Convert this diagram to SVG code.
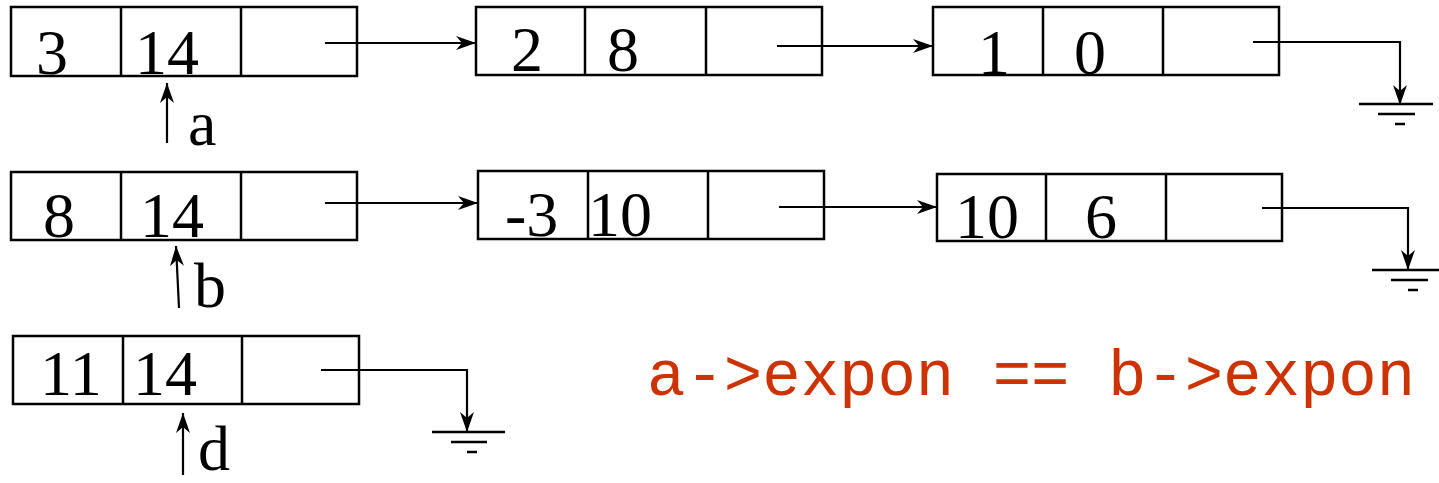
<svg xmlns="http://www.w3.org/2000/svg" width="1439" height="483" viewBox="0 0 1439 483">
<style>
.box{fill:none;stroke:#000;stroke-width:2.5}
.div{stroke:#000;stroke-width:2.5}
.num{font-family:"Liberation Serif","Times New Roman",serif;font-size:64px;fill:#000}
.lbl{font-family:"Liberation Serif","Times New Roman",serif;font-size:64px;fill:#000}
.con{fill:none;stroke:#000;stroke-width:2.2}
.gnd{stroke:#000;stroke-width:2.5}
.code{font-family:"Liberation Mono","Courier New",monospace;font-size:64px;fill:#cc3300}
</style>
<defs>
<marker id="ah" viewBox="0 0 20 14" refX="20" refY="7" markerWidth="20" markerHeight="14" markerUnits="userSpaceOnUse" orient="auto">
<path d="M0,0 L20,7 L0,14 L6,7 z" fill="#000"/>
</marker>
</defs>
<rect width="1439" height="483" fill="#fff"/>

<g id="node-a1">
<rect class="box" x="11" y="7" width="346" height="69"/>
<line class="div" x1="121" y1="7" x2="121" y2="76"/>
<line class="div" x1="241" y1="7" x2="241" y2="77"/>
<text class="num" x="36" y="74">3</text>
<text class="num" x="135" y="74">14</text>
</g>
<g id="node-a2">
<rect class="box" x="476" y="7" width="346" height="68"/>
<line class="div" x1="585" y1="7" x2="585" y2="75"/>
<line class="div" x1="706" y1="7" x2="706" y2="76"/>
<text class="num" x="511" y="71">2</text>
<text class="num" x="607" y="71">8</text>
</g>
<g id="node-a3">
<rect class="box" x="933" y="7" width="346" height="68"/>
<line class="div" x1="1043" y1="7" x2="1043" y2="75"/>
<line class="div" x1="1163" y1="7" x2="1163" y2="76"/>
<text class="num" x="978" y="74">1</text>
<text class="num" x="1074" y="74">0</text>
</g>

<g id="node-b1">
<rect class="box" x="11" y="172" width="346" height="68"/>
<line class="div" x1="121" y1="172" x2="121" y2="240"/>
<line class="div" x1="241" y1="172" x2="241" y2="241"/>
<text class="num" x="43" y="237">8</text>
<text class="num" x="140" y="237">14</text>
</g>
<g id="node-b2">
<rect class="box" x="478" y="171" width="346" height="68"/>
<line class="div" x1="588" y1="171" x2="588" y2="239"/>
<line class="div" x1="708" y1="171" x2="708" y2="240"/>
<text class="num" x="505" y="236">-3</text>
<text class="num" x="588" y="236">10</text>
</g>
<g id="node-b3">
<rect class="box" x="937" y="174" width="345" height="67"/>
<line class="div" x1="1046" y1="174" x2="1046" y2="241"/>
<line class="div" x1="1166" y1="174" x2="1166" y2="242"/>
<text class="num" x="955" y="238">10</text>
<text class="num" x="1085" y="238">6</text>
</g>

<g id="node-d1">
<rect class="box" x="13" y="336" width="346" height="68"/>
<line class="div" x1="123" y1="336" x2="123" y2="404"/>
<line class="div" x1="242" y1="336" x2="242" y2="405"/>
<text class="num" x="40" y="395">11</text>
<text class="num" x="133" y="395">14</text>
</g>

<g id="labels">
<text class="lbl" x="188" y="145">a</text>
<text class="lbl" x="194" y="307">b</text>
<text class="lbl" x="198" y="470">d</text>
<text class="code" x="647" y="395">a-&gt;expon == b-&gt;expon</text>
</g>

<g id="connectors">
<line class="con" x1="167" y1="143" x2="167" y2="83" marker-end="url(#ah)"/>
<line class="con" x1="179" y1="308" x2="176" y2="246" marker-end="url(#ah)"/>
<line class="con" x1="183" y1="475" x2="183" y2="413" marker-end="url(#ah)"/>

<line class="con" x1="325" y1="43" x2="476" y2="43" marker-end="url(#ah)"/>
<line class="con" x1="777" y1="46" x2="933" y2="46" marker-end="url(#ah)"/>
<line class="con" x1="325" y1="203" x2="478" y2="203" marker-end="url(#ah)"/>
<line class="con" x1="779" y1="207" x2="937" y2="207" marker-end="url(#ah)"/>

<polyline class="con" points="1253,42 1400,42 1400,105" marker-end="url(#ah)"/>
<polyline class="con" points="1262,208 1408,208 1408,270" marker-end="url(#ah)"/>
<polyline class="con" points="321,370 467,370 467,432" marker-end="url(#ah)"/>
</g>

<g id="ground-1">
<line class="gnd" x1="1359" y1="104" x2="1433" y2="104"/>
<line class="gnd" x1="1378" y1="114" x2="1415" y2="114"/>
<line class="gnd" x1="1395" y1="124" x2="1405" y2="124" stroke-width="3"/>
</g>
<g id="ground-2">
<line class="gnd" x1="1372" y1="270" x2="1439" y2="270"/>
<line class="gnd" x1="1391" y1="280" x2="1428" y2="280"/>
<line class="gnd" x1="1408" y1="290" x2="1418" y2="290" stroke-width="3"/>
</g>
<g id="ground-3">
<line class="gnd" x1="432" y1="432" x2="505" y2="432"/>
<line class="gnd" x1="451" y1="442" x2="487" y2="442"/>
<line class="gnd" x1="467" y1="452" x2="477" y2="452" stroke-width="3"/>
</g>
</svg>
